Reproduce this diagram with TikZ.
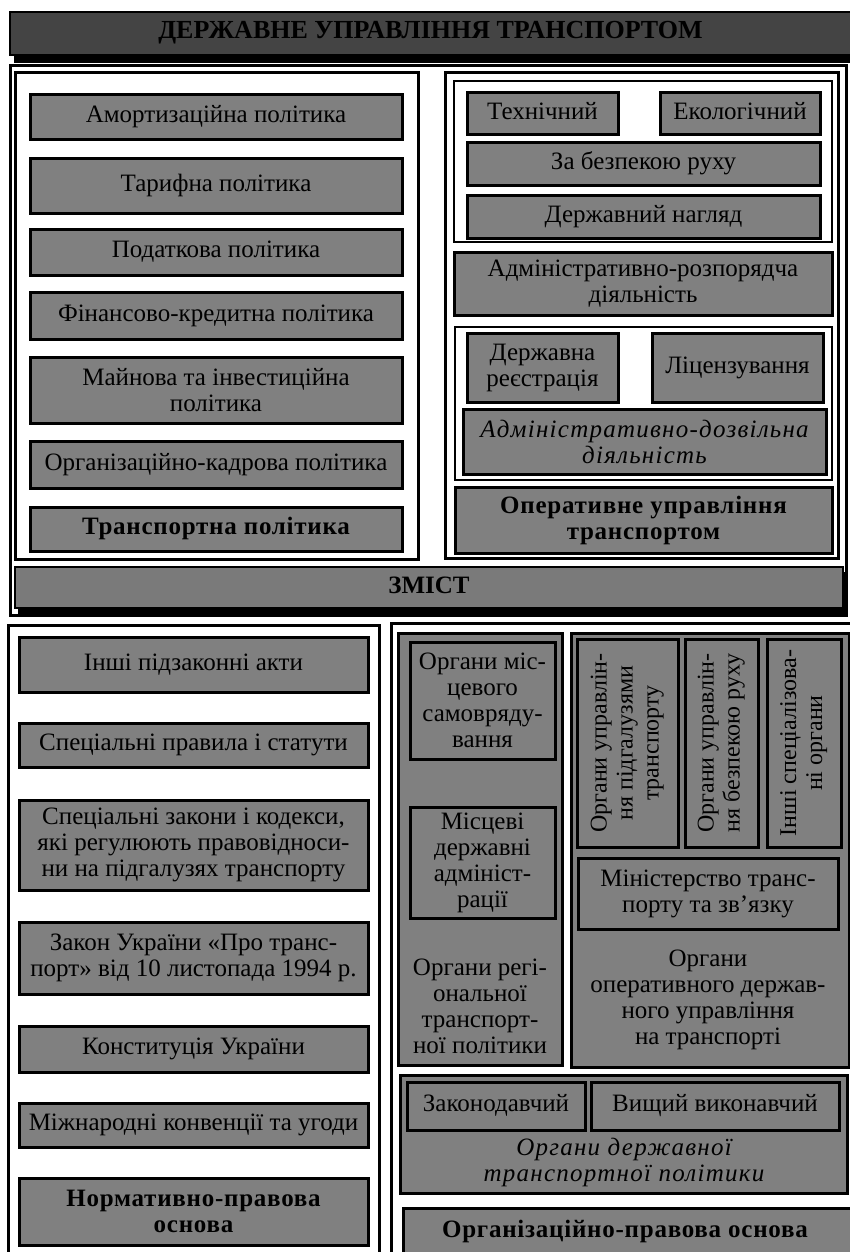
\documentclass[tikz,border=0pt]{standalone}
\usepackage{fontspec}
\setmainfont{Liberation Serif}
\newfontfamily\spacedserif[LetterSpace=3]{Liberation Serif}
\newfontfamily\spacedital[LetterSpace=5]{Liberation Serif}
\usepackage{graphicx}
\definecolor{boxgray}{RGB}{128,128,128}
\definecolor{titlegray}{RGB}{68,68,68}
\definecolor{bargray}{RGB}{122,122,122}
\newcommand\bx[7]{\node[#6, minimum width={#4pt-#2pt}, minimum height={#5pt-#3pt}] (#1) at ({(#2+#4)/2},{(#3+#5)/2}) {#7};}
\newcommand\vtxt[1]{\rotatebox{90}{\begin{tabular}{@{}c@{}}#1\end{tabular}}}
\tikzset{
  txtbase/.style={font=\fontsize{25}{26}\selectfont, align=center, inner sep=0pt, outer sep=0pt, rectangle},
  gbox/.style={txtbase, draw=black, line width=3pt, fill=boxgray},
  onel/.style={text height=17pt, text depth=6pt},
  panel/.style={txtbase, draw=black, line width=3pt, fill=white},
  grp/.style={txtbase, draw=black, line width=2.5pt, fill=white},
  titlebar/.style={txtbase, draw=black, line width=1.5pt, fill=titlegray, font=\fontsize{26}{28}\selectfont\bfseries},
  zbar/.style={txtbase, draw=black, line width=1.5pt, fill=bargray, font=\fontsize{25}{27}\selectfont\bfseries},
  bfnt/.style={font=\fontsize{25}{26}\selectfont\spacedserif\bfseries},
  ifnt/.style={font=\fontsize{25}{26}\selectfont\spacedital\itshape},
  vfnt/.style={font=\fontsize{24}{26}\selectfont},
  lbl/.style={txtbase},
  shadowfill/.style={fill=black},
}
\begin{document}
\begin{tikzpicture}[x=1pt,y=-1pt]
\useasboundingbox (0,0) rectangle (849,1252);
% title
\fill[shadowfill] (14,20) rectangle (851,63);
\bx{title}{10}{12}{851}{55}{titlebar,onel}{ДЕРЖАВНЕ УПРАВЛІННЯ ТРАНСПОРТОМ}
% upper frame
\bx{upper}{10}{66}{846}{615}{panel}{}
\bx{lpan}{15}{73}{418}{559}{panel}{}
\bx{rpan}{445}{73}{838}{558}{panel}{}
% left boxes
\bx{amort}{30}{95}{402}{140}{gbox,onel}{Амортизаційна політика}
\bx{tarif}{30}{159}{402}{213}{gbox,onel}{Тарифна політика}
\bx{podat}{30}{229}{402}{275}{gbox,onel}{Податкова політика}
\bx{fin}{30}{292}{402}{339}{gbox,onel}{Фінансово-кредитна політика}
\bx{mayn}{30}{357}{402}{423}{gbox}{Майнова та інвестиційна\\політика}
\bx{orgk}{30}{441}{402}{488}{gbox,onel}{Організаційно-кадрова політика}
\bx{transp}{30}{507}{402}{551}{gbox,bfnt,onel}{Транспортна політика}
% right boxes
\bx{grp1}{454}{81}{832}{242}{grp}{}
\bx{tech}{467}{93}{618}{135}{gbox,onel}{Технічний}
\bx{eco}{660}{93}{820}{135}{gbox,onel}{Екологічний}
\bx{bezp}{467}{143}{820}{186}{gbox,onel}{За безпекою руху}
\bx{nag}{467}{196}{820}{238}{gbox,onel}{Державний нагляд}
\bx{adminr}{454}{252}{832}{315}{gbox}{Адміністративно-розпорядча\\діяльність}
\bx{grp2}{455}{327}{832}{480}{grp}{}
\bx{reestr}{467}{333}{618}{402}{gbox}{Державна\\реєстрація}
\bx{lic}{652}{333}{823}{402}{gbox,onel}{Ліцензування}
\bx{admind}{463}{409}{826}{474}{gbox,ifnt}{Адміністративно-дозвільна\\діяльність}
\bx{oper}{455}{487}{832}{553}{gbox,bfnt}{Оперативне управління\\транспортом}
% zmist bar
\fill[shadowfill] (18,572) rectangle (848,617);
\bx{zmist}{15}{567}{843}{608}{zbar,onel}{ЗМІСТ}
% lower left
\bx{llpan}{8}{625}{379}{1262}{panel}{}
\bx{inshi}{19}{637}{368}{692}{gbox,onel}{Інші підзаконні акти}
\bx{spec}{19}{723}{368}{767}{gbox,onel}{Спеціальні правила і статути}
\bx{zakony}{19}{800}{368}{890}{gbox}{Спеціальні закони і кодекси,\\які регулюють правовідноси-\\ни на підгалузях транспорту}
\bx{zakon}{19}{922}{368}{994}{gbox}{Закон України «Про транс-\\порт» від 10 листопада 1994 р.}
\bx{konst}{19}{1026}{368}{1072}{gbox,onel}{Конституція України}
\bx{mizh}{19}{1103}{368}{1147}{gbox,onel}{Міжнародні конвенції та угоди}
\bx{norm}{19}{1178}{368}{1245}{gbox,bfnt}{Нормативно-правова\\основа}
% lower right
\bx{lrpan}{391}{623}{860}{1262}{panel}{}
\bx{regc}{398}{633}{562}{1065}{gbox}{}
\bx{mistsam}{410}{642}{555}{759}{gbox}{Органи міс-\\цевого\\самовряду-\\вання}
\bx{mistad}{410}{807}{555}{918}{gbox}{Місцеві\\державні\\адмініст-\\рації}
\node[lbl] (reglbl) at (480,1006) {Органи регі-\\ональної\\транспорт-\\ної політики};
\bx{operc}{571}{633}{849}{1067}{gbox}{}
\bx{vone}{577}{639}{678}{847}{gbox,vfnt}{\vtxt{Органи управлін-\\ня підгалузями\\транспорту}}
\bx{vtwo}{685}{639}{758}{847}{gbox,vfnt}{\vtxt{Органи управлін-\\ня безпекою руху}}
\bx{vthree}{767}{639}{841}{847}{gbox,vfnt}{\vtxt{Інші спеціалізова-\\ні органи}}
\bx{minis}{578}{858}{838}{929}{gbox}{Міністерство транс-\\порту та зв’язку}
\node[lbl] (operlbl) at (708,1000) {Органи\\оперативного держав-\\ного управління\\на транспорті};
\bx{dtpc}{400}{1075}{847}{1193}{gbox}{}
\bx{zakond}{407}{1082}{585}{1130}{gbox,onel}{Законодавчий}
\bx{vyshch}{591}{1082}{839}{1130}{gbox,onel}{Вищий виконавчий}
\node[lbl,ifnt] (dtplbl) at (624,1162) {Органи державної\\транспортної політики};
\bx{orgpr}{403}{1208}{860}{1262}{gbox,bfnt}{}
\node[lbl,bfnt,onel] (orgprlbl) at (625,1232) {Організаційно-правова основа};
\end{tikzpicture}
\end{document}
